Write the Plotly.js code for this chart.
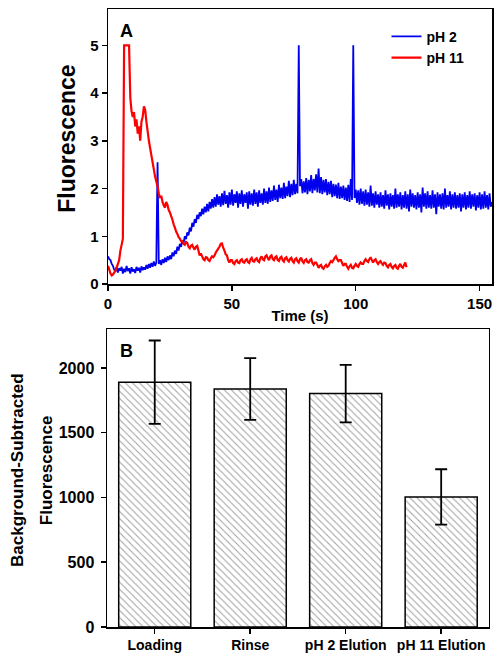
<!DOCTYPE html>
<html>
<head>
<meta charset="utf-8">
<script src="https://cdn.plot.ly/plotly-3.0.1.min.js"></script>
<style>html,body{margin:0;padding:0;background:#fff;}#chart{width:503px;height:659px;}</style>
</head>
<body>
<div id="chart"></div>
<script>
// ---- Panel A: time traces (0.5 s spacing) ----
const tBlue = [
0,0.5,1,1.5,2,2.5,3,3.5,4,4.5, 5,5.5,6,6.5,7,7.5,8,8.5,9,9.5,
10,10.5,11,11.5,12,12.5,13,13.5,14,14.5, 15,15.5,16,16.5,17,17.5,18,18.5,19,19.5,
20,20.5,21,21.5,22,22.5,23,23.5,24,24.5, 25,25.5,26,26.5,27,27.5,28,28.5,29,29.5,
30,30.5,31,31.5,32,32.5,33,33.5,34,34.5, 35,35.5,36,36.5,37,37.5,38,38.5,39,39.5,
40,40.5,41,41.5,42,42.5,43,43.5,44,44.5, 45,45.5,46,46.5,47,47.5,48,48.5,49,49.5,
50,50.5,51,51.5,52,52.5,53,53.5,54,54.5, 55,55.5,56,56.5,57,57.5,58,58.5,59,59.5,
60,60.5,61,61.5,62,62.5,63,63.5,64,64.5, 65,65.5,66,66.5,67,67.5,68,68.5,69,69.5,
70,70.5,71,71.5,72,72.5,73,73.5,74,74.5, 75,75.5,76,76.5,77,77.5,78,78.5,79,79.5,
80,80.5,81,81.5,82,82.5,83,83.5,84,84.5, 85,85.5,86,86.5,87,87.5,88,88.5,89,89.5,
90,90.5,91,91.5,92,92.5,93,93.5,94,94.5, 95,95.5,96,96.5,97,97.5,98,98.5,99,99.5,
100,100.5,101,101.5,102,102.5,103,103.5,104,104.5, 105,105.5,106,106.5,107,107.5,108,108.5,109,109.5,
110,110.5,111,111.5,112,112.5,113,113.5,114,114.5, 115,115.5,116,116.5,117,117.5,118,118.5,119,119.5,
120,120.5,121,121.5,122,122.5,123,123.5,124,124.5, 125,125.5,126,126.5,127,127.5,128,128.5,129,129.5,
130,130.5,131,131.5,132,132.5,133,133.5,134,134.5, 135,135.5,136,136.5,137,137.5,138,138.5,139,139.5,
140,140.5,141,141.5,142,142.5,143,143.5,144,144.5, 145,145.5,146,146.5,147,147.5,148,148.5,149,149.5,
150,150.5,151,151.5,152,152.5,153,153.5,154,154.5, 155];
const yBlue = [
0.58,0.52,0.50,0.42,0.38,0.30,0.26,0.36,0.24,0.33, 0.28,0.36,0.22,0.32,0.25,0.38,0.27,0.33,0.22,0.35,
0.26,0.31,0.23,0.36,0.28,0.34,0.24,0.37,0.29,0.35, 0.30,0.40,0.32,0.42,0.34,0.44,0.36,0.47,0.38,0.45,
2.55,0.42,0.50,0.40,0.52,0.44,0.55,0.46,0.58,0.50, 0.60,0.52,0.66,0.58,0.70,0.63,0.78,0.70,0.84,0.78,
0.92,0.85,1.00,0.94,1.08,1.02,1.18,1.10,1.28,1.20, 1.36,1.28,1.45,1.36,1.50,1.42,1.58,1.46,1.62,1.50,
1.68,1.52,1.72,1.58,1.78,1.60,1.82,1.62,1.88,1.66, 1.84,1.62,1.90,1.65,1.95,1.68,1.86,1.60,1.92,1.66,
1.98,1.64,1.88,1.70,1.94,1.60,1.90,1.68,1.96,1.62, 1.88,1.70,1.92,1.58,1.94,1.66,1.90,1.64,1.98,1.68,
1.92,1.62,1.96,1.70,1.90,1.66,2.00,1.70,1.94,1.68, 2.02,1.72,1.96,1.74,2.06,1.76,1.98,1.72,2.08,1.80,
2.02,1.78,2.12,1.80,2.04,1.84,2.16,1.82,2.10,1.86, 2.18,1.88,2.10,1.90,5.00,2.05,2.20,1.90,2.15,1.92,
2.22,1.88,2.18,1.94,2.28,1.90,2.20,1.96,2.30,1.92, 2.42,1.90,2.24,1.88,2.18,1.92,2.20,1.86,2.14,1.88,
2.16,1.82,2.10,1.84,2.08,1.80,2.12,1.78,2.04,1.80, 2.06,1.76,2.02,1.74,2.08,1.72,2.20,1.76,5.00,1.80,
1.98,1.70,1.96,1.66,2.00,1.68,1.94,1.64,1.98,1.66, 1.92,1.62,2.06,1.64,1.90,1.60,1.94,1.66,1.88,1.60,
1.92,1.62,1.86,1.58,1.96,1.64,1.88,1.56,1.90,1.62, 1.86,1.58,2.00,1.60,1.88,1.62,1.92,1.56,1.86,1.60,
1.94,1.58,1.88,1.52,1.98,1.62,1.90,1.60,1.86,1.56, 1.92,1.60,1.88,1.50,2.02,1.62,1.90,1.58,1.94,1.60,
1.86,1.58,1.96,1.60,1.88,1.46,1.92,1.62,1.88,1.58, 1.90,1.56,2.00,1.60,1.86,1.62,1.94,1.56,1.88,1.60,
1.92,1.58,1.86,1.60,1.90,1.52,1.88,1.60,1.92,1.56, 1.86,1.60,1.94,1.58,1.88,1.62,1.90,1.54,1.86,1.60,
1.92,1.56,1.88,1.58,1.94,1.60,1.86,1.56,1.90,1.62, 1.72];

const tRed = [
0,0.5,1,1.5,2,2.5,3,3.5,4,4.5, 5,5.5,6,6.5,7,7.5,8,8.5,9,9.5,
10,10.5,11,11.5,12,12.5,13,13.5,14,14.5, 15,15.5,16,16.5,17,17.5,18,18.5,19,19.5,
20,20.5,21,21.5,22,22.5,23,23.5,24,24.5, 25,25.5,26,26.5,27,27.5,28,28.5,29,29.5,
30,30.5,31,31.5,32,32.5,33,33.5,34,34.5, 35,35.5,36,36.5,37,37.5,38,38.5,39,39.5,
40,40.5,41,41.5,42,42.5,43,43.5,44,44.5, 45,45.5,46,46.5,47,47.5,48,48.5,49,49.5,
50,50.5,51,51.5,52,52.5,53,53.5,54,54.5, 55,55.5,56,56.5,57,57.5,58,58.5,59,59.5,
60,60.5,61,61.5,62,62.5,63,63.5,64,64.5, 65,65.5,66,66.5,67,67.5,68,68.5,69,69.5,
70,70.5,71,71.5,72,72.5,73,73.5,74,74.5, 75,75.5,76,76.5,77,77.5,78,78.5,79,79.5,
80,80.5,81,81.5,82,82.5,83,83.5,84,84.5, 85,85.5,86,86.5,87,87.5,88,88.5,89,89.5,
90,90.5,91,91.5,92,92.5,93,93.5,94,94.5, 95,95.5,96,96.5,97,97.5,98,98.5,99,99.5,
100,100.5,101,101.5,102,102.5,103,103.5,104,104.5, 105,105.5,106,106.5,107,107.5,108,108.5,109,109.5,
110,110.5,111,111.5,112,112.5,113,113.5,114,114.5, 115,115.5,116,116.5,117,117.5,118,118.5,119,119.5,
120,120.5];
const yRed = [
0.38,0.30,0.22,0.18,0.20,0.24,0.28,0.34,0.42,0.50, 0.70,0.82,0.95,5.00,5.00,5.00,5.00,5.00,3.90,3.62,
3.50,3.60,3.30,3.45,3.15,3.30,3.00,3.40,3.50,3.72, 3.65,3.40,3.20,3.00,2.85,2.70,2.55,2.40,2.25,2.15,
2.05,1.90,1.80,1.85,1.72,1.65,1.60,1.72,1.66,1.55, 1.50,1.42,1.35,1.25,1.18,1.10,1.05,0.98,0.95,0.90,
0.90,0.84,0.82,0.88,0.86,0.78,0.75,0.80,0.82,0.76, 0.72,0.78,0.80,0.70,0.60,0.64,0.58,0.52,0.50,0.56,
0.55,0.50,0.48,0.54,0.58,0.56,0.60,0.66,0.70,0.74, 0.78,0.84,0.85,0.76,0.70,0.62,0.60,0.50,0.45,0.50,
0.50,0.44,0.42,0.48,0.50,0.45,0.44,0.50,0.52,0.46, 0.45,0.50,0.52,0.46,0.44,0.52,0.55,0.48,0.47,0.52,
0.54,0.48,0.46,0.54,0.58,0.52,0.50,0.58,0.60,0.54, 0.50,0.58,0.60,0.52,0.50,0.56,0.58,0.50,0.48,0.55,
0.57,0.50,0.47,0.54,0.56,0.50,0.47,0.53,0.55,0.48, 0.45,0.52,0.54,0.48,0.45,0.52,0.55,0.47,0.44,0.50,
0.52,0.46,0.45,0.50,0.52,0.44,0.40,0.45,0.45,0.40, 0.34,0.38,0.40,0.34,0.32,0.37,0.40,0.36,0.38,0.44,
0.48,0.46,0.50,0.55,0.58,0.52,0.48,0.50,0.50,0.44, 0.38,0.42,0.42,0.36,0.32,0.37,0.40,0.34,0.33,0.38,
0.42,0.38,0.36,0.42,0.45,0.42,0.42,0.48,0.52,0.48, 0.46,0.52,0.56,0.50,0.45,0.50,0.52,0.46,0.42,0.46,
0.48,0.43,0.40,0.45,0.44,0.38,0.35,0.40,0.42,0.36, 0.33,0.38,0.40,0.34,0.32,0.38,0.42,0.36,0.34,0.40,
0.45,0.35];

const seriesNames = ['pH 2', 'pH 11'];

// ---- Panel B: bars ----
const categories = ['Loading', 'Rinse', 'pH 2 Elution', 'pH 11 Elution'];
const barValues = [1890, 1838, 1802, 1004];
const barErrors = [322, 238, 222, 214];

const F = 'Liberation Sans, Arial, Helvetica, sans-serif';

const traces = [
  {x: tBlue, y: yBlue, type: 'scatter', mode: 'lines', name: seriesNames[0],
   line: {color: '#0000ee', width: 1.8, simplify: false}, xaxis: 'x', yaxis: 'y'},
  {x: tRed, y: yRed, type: 'scatter', mode: 'lines', name: seriesNames[1],
   line: {color: '#ff0000', width: 2.2, simplify: false}, xaxis: 'x', yaxis: 'y'},
  {x: categories, y: barValues, type: 'bar', width: 0.755, showlegend: false,
   marker: {color: '#ffffff', line: {color: '#000', width: 1.5},
            pattern: {shape: '\\', fgcolor: '#a0a0a0', bgcolor: '#ffffff', size: 5, solidity: 0.2}},
   error_y: {type: 'data', array: barErrors, visible: true, color: '#000', thickness: 1.8, width: 6},
   xaxis: 'x2', yaxis: 'y2'}
];

const axBase = {
  showline: true, linecolor: '#000', linewidth: 1.5, mirror: true,
  ticks: 'outside', ticklen: 5, tickwidth: 1.5, tickcolor: '#000',
  showgrid: false, zeroline: false,
  tickfont: {family: F, size: 15, color: '#000', weight: 'bold'}
};

function ann(text, px, py, size, angle) {
  return {text: text, xref: 'paper', yref: 'paper', x: (px - 107) / 385, y: (627 - py) / 618,
          xanchor: 'center', yanchor: 'middle', showarrow: false, textangle: angle || 0,
          font: {family: F, size: size, color: '#000', weight: 'bold'}};
}

const layout = {
  width: 503, height: 659,
  margin: {l: 107, r: 11, t: 9, b: 32},
  paper_bgcolor: '#fff', plot_bgcolor: '#fff',
  showlegend: true,
  legend: {x: 0.726, xanchor: 'left', y: 0.981, yanchor: 'top', bgcolor: 'rgba(0,0,0,0)',
           font: {family: F, size: 14, color: '#000', weight: 'bold'},
           tracegroupgap: 0, itemwidth: 30},
  xaxis: Object.assign({}, axBase, {domain: [0.0026, 1], range: [0, 155], tickvals: [0, 50, 100, 150],
    anchor: 'y', title: {text: 'Time (s)', font: {family: F, size: 15, color: '#000', weight: 'bold'}, standoff: 0}}),
  yaxis: Object.assign({}, axBase, {domain: [0.555, 1], range: [0, 5.76], tickvals: [0, 1, 2, 3, 4, 5], anchor: 'x'}),
  xaxis2: Object.assign({}, axBase, {domain: [0, 0.992], range: [-0.5, 3.5], type: 'category', anchor: 'y2',
    tickfont: {family: F, size: 14, color: '#000', weight: 'bold'}}),
  yaxis2: Object.assign({}, axBase, {domain: [0, 0.482], range: [0, 2300], tickvals: [0, 500, 1000, 1500, 2000], anchor: 'x2',
    tickfont: {family: F, size: 16, color: '#000', weight: 'bold'}, ticklabelstandoff: 3}),
  annotations: [
    ann('A', 126, 31, 18),
    ann('B', 126, 351, 18),
    ann('Fluorescence', 66.7, 139, 23, -90),
    ann('Background-Subtracted', 17.5, 470.5, 17, -90),
    ann('Fluorescence', 46.7, 470.5, 17, -90)
  ]
};

Plotly.newPlot('chart', traces, layout, {displayModeBar: false, staticPlot: true});
</script>
</body>
</html>
